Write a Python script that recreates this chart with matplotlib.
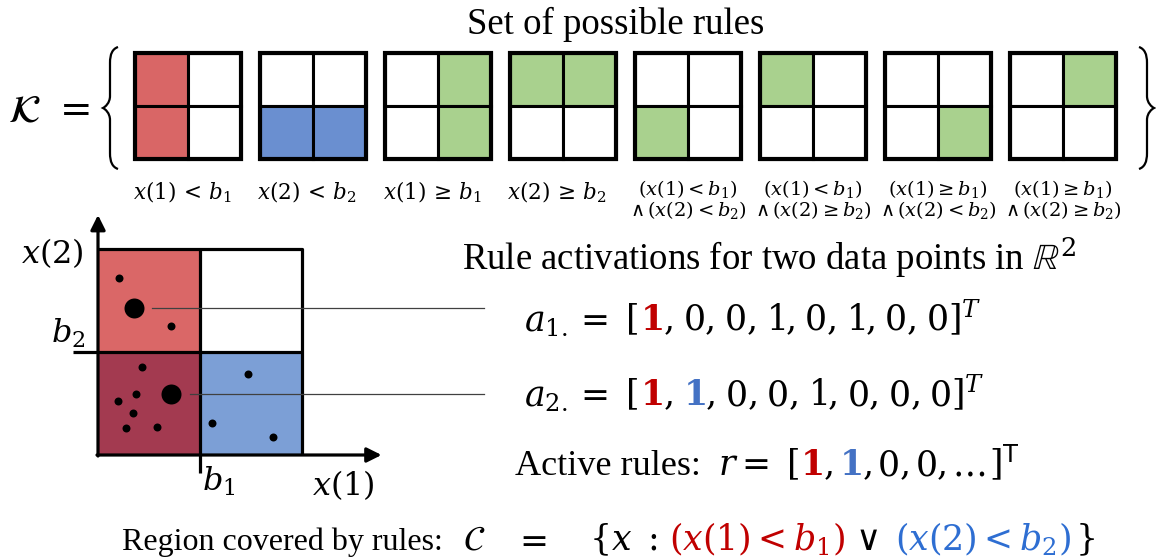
import matplotlib
matplotlib.use('Agg')
import matplotlib.pyplot as plt
from matplotlib.patches import Rectangle, PathPatch
from matplotlib.path import Path

plt.rcParams['mathtext.fontset'] = 'dejavuserif'
plt.rcParams['font.family'] = ['Liberation Serif', 'DejaVu Serif']

# --- rule set: cells are [upper row, lower row] x [left col, right col]
rule_masks = [
    [[1, 0], [1, 0]],
    [[0, 0], [1, 1]],
    [[0, 1], [0, 1]],
    [[1, 1], [0, 0]],
    [[0, 0], [1, 0]],
    [[1, 0], [0, 0]],
    [[0, 0], [0, 1]],
    [[0, 1], [0, 0]],
]
rule_fill = ['#D96666', '#6A8FD0'] + ['#A9D18E'] * 6
rule_labels = [
    [r'$x(1)\,<\,b_1$'],
    [r'$x(2)\,<\,b_2$'],
    [r'$x(1)\,\geq\,b_1$'],
    [r'$x(2)\,\geq\,b_2$'],
    [r'$(x(1) < b_1)$', r'$\wedge\,(x(2) < b_2)$'],
    [r'$(x(1) < b_1)$', r'$\wedge\,(x(2) \geq b_2)$'],
    [r'$(x(1) \geq b_1)$', r'$\wedge\,(x(2) < b_2)$'],
    [r'$(x(1) \geq b_1)$', r'$\wedge\,(x(2) \geq b_2)$'],
]

# --- data points in the x(1), x(2) plane (b1 = b2 = 1)
small_x1 = [0.21, 0.72, 0.43, 0.37, 0.20, 0.34, 0.27, 0.58, 1.47, 1.12, 1.72]
small_x2 = [1.72, 1.25, 0.85, 0.59, 0.52, 0.41, 0.26, 0.27, 0.79, 0.31, 0.17]
big_x1 = [0.35, 0.72]
big_x2 = [1.43, 0.59]
quad_fill = {(0, 1): '#DA6767', (1, 1): 'white', (0, 0): '#A33A50', (1, 0): '#7C9FD6'}

# activation vectors for the two big points, and the active rules
a1 = [1, 0, 0, 1, 0, 1, 0, 0]
a2 = [1, 1, 0, 0, 1, 0, 0, 0]
r_active = [1, 1, 0, 0]

red = '#C00000'
blue1 = '#4472C4'
blue2 = '#2E6ED2'

W, H = 1156, 560
fig = plt.figure(figsize=(W / 100, H / 100), dpi=100)
ax = fig.add_axes([0, 0, 1, 1])
ax.set_xlim(0, W)
ax.set_ylim(H, 0)
ax.set_axis_off()
renderer = fig.canvas.get_renderer()


def put_parts(x, y, parts, size):
    # parts: (mathtext, colour, gap after in px)
    for s, col, gap in parts:
        t = ax.text(x, y, s, fontsize=size, color=col, ha='left', va='baseline')
        x += t.get_window_extent(renderer=renderer).width + gap
    return x


def vector_parts(name, vals, sep, tail, eq_gap):
    cols = [red, blue1]
    parts = [(r'$%s =$' % name, 'k', eq_gap), (r'$[$', 'k', 2)]
    for i, v in enumerate(vals):
        if i < 2 and v == 1:
            parts.append((r'$\mathbf{1}$', cols[i], 0))
        else:
            parts.append((r'$%d$' % v, 'k', 0))
        parts.append((r'$,$', 'k', sep))
    parts[-1] = tail
    return parts


def brace(x_end, x_stem, x_tip, y0, ym, y1):
    k = x_end - x_stem
    j = x_stem - x_tip
    verts = [(x_end, y0),
             (x_stem + 0.3 * k, y0 + 2), (x_stem, y0 + 7), (x_stem, y0 + 16),
             (x_stem, ym - 12),
             (x_stem, ym - 5), (x_tip + 0.3 * j, ym - 1), (x_tip, ym),
             (x_tip + 0.3 * j, ym + 1), (x_stem, ym + 5), (x_stem, ym + 12),
             (x_stem, y1 - 16),
             (x_stem, y1 - 7), (x_stem + 0.3 * k, y1 - 2), (x_end, y1)]
    codes = [Path.MOVETO] + [Path.CURVE4] * 3 + [Path.LINETO] + [Path.CURVE4] * 6 \
        + [Path.LINETO] + [Path.CURVE4] * 3
    ax.add_patch(PathPatch(Path(verts, codes), fill=False, lw=1.6, color='k'))


# title and K = { ... }
ax.text(616, 34, 'Set of possible rules', fontsize=26.5, ha='center', va='baseline')
ax.text(8, 122, r'$\mathcal{K}\ =$', fontsize=28, ha='left', va='baseline')
brace(118, 110, 103, 47, 108, 169)
brace(1139, 1147, 1154, 47, 108, 169)

cell = 53
for i, (mask, col, lab) in enumerate(zip(rule_masks, rule_fill, rule_labels)):
    x0 = 135 + 125 * i
    for r in range(2):
        for c in range(2):
            ax.add_patch(Rectangle((x0 + c * cell, 53 + r * cell), cell, cell,
                                   facecolor=col if mask[r][c] else 'white',
                                   edgecolor='k', lw=2.2))
    ax.add_patch(Rectangle((x0, 53), 2 * cell, 2 * cell, fill=False, edgecolor='k', lw=3))
    cx = x0 + cell
    if len(lab) == 1:
        ax.text(cx - 6, 199, lab[0], fontsize=15.5, ha='center', va='baseline')
    else:
        ax.text(cx, 195, lab[0], fontsize=14, ha='center', va='baseline')
        ax.text(cx, 216, lab[1], fontsize=14, ha='center', va='baseline')

# right-hand text
ax.text(462, 270, r'Rule activations for two data points in $\mathbb{R}^2$',
        fontsize=26.5, ha='left', va='baseline')
put_parts(524, 330, vector_parts(r'a_{1.}', a1, 10, (r'$]^{T}$', 'k', 0), 18), 25)
put_parts(524, 405, vector_parts(r'a_{2.}', a2, 10, (r'$]^{T}$', 'k', 0), 18), 25)
ax.text(515, 475, 'Active rules:', fontsize=26, ha='left', va='baseline')
r_parts = vector_parts('r', r_active, 6, (r'$,$', 'k', 6), 17)
r_parts += [(r'$\ldots$', 'k', 4), (r'$]^{\mathsf{T}}$', 'k', 0)]
put_parts(718, 475, r_parts, 25)
ax.text(122, 550, 'Region covered by rules:', fontsize=23, ha='left', va='baseline')
put_parts(463, 550, [(r'$\mathcal{C}$', 'k', 28), (r'$=$', 'k', 42), (r'$\{x$', 'k', 8),
                     (r'$:$', 'k', 12), (r'$(x(1) < b_1)$', red, 10),
                     (r'$\vee$', 'k', 17), (r'$(x(2) < b_2)$', blue2, 3), (r'$\}$', 'k', 0)], 25)

# --- the x(1), x(2) plane
ax2 = fig.add_axes([98 / W, 105 / H, 204 / W, 206 / H])
ax2.set_xlim(0, 2)
ax2.set_ylim(0, 2)
ax2.set_axis_off()
for (qx, qy), col in quad_fill.items():
    ax2.add_patch(Rectangle((qx, qy), 1, 1, facecolor=col, edgecolor='none', clip_on=False))
lk = dict(color='k', lw=2.3, clip_on=False, solid_capstyle='butt')
ax2.plot([0, 2, 2], [2, 2, 0], **lk)
ax2.plot([-0.245, 2], [1, 1], **lk)
ax2.plot([1, 1], [-0.175, 2], **lk)
arr = dict(arrowstyle='-|>', lw=2.3, color='k', mutation_scale=22, shrinkA=0, shrinkB=0)
ax2.annotate('', xy=(0, 2.33), xytext=(0, -0.01), arrowprops=arr, annotation_clip=False)
ax2.annotate('', xy=(2.78, 0), xytext=(-0.01, 0), arrowprops=arr, annotation_clip=False)
ax2.scatter(small_x1, small_x2, s=33, color='k', zorder=5, clip_on=False, linewidths=0)
ax2.scatter(big_x1, big_x2, s=207, color='k', zorder=5, clip_on=False, linewidths=0)
for bx, by in zip(big_x1, big_x2):
    ax2.plot([bx + 0.18, 3.78], [by, by], color='#404040', lw=0.9, clip_on=False, zorder=6)
ax2.text(-0.45, 1.96, r'$x(2)$', fontsize=23, ha='center', va='center')
ax2.text(-0.29, 1.18, r'$b_2$', fontsize=23, ha='center', va='center')
ax2.text(1.18, -0.26, r'$b_1$', fontsize=23, ha='center', va='center')
ax2.text(2.41, -0.29, r'$x(1)$', fontsize=23, ha='center', va='center')

fig.savefig('out.png', dpi=100)
